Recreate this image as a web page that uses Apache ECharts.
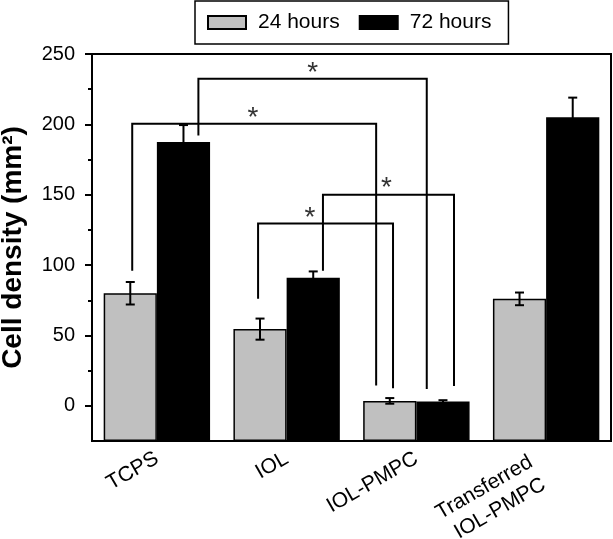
<!DOCTYPE html>
<html>
<head>
<meta charset="utf-8">
<script src="https://cdn.jsdelivr.net/npm/echarts@6/dist/echarts.min.js"></script>
<style>html,body{margin:0;padding:0;background:#fff;}#c{width:613px;height:539px;}</style>
</head>
<body>
<div id="c"></div>
<script>
// ---- data ----
var categories = ['TCPS', 'IOL', 'IOL-PMPC', 'Transferred\nIOL-PMPC'];
var seriesNames = ['24 hours', '72 hours'];
var values24 = [80, 54.5, 3.5, 76];
var errors24 = [8, 7.5, 2, 4.5];
var values72 = [187.5, 91, 3, 205];
var errors72 = [12, 4.5, 1, 14];
var yTicks = [0, 50, 100, 150, 200, 250];
var yMinorTicks = [25, 75, 125, 175, 225];
var yMin = -25, yMax = 250;
// significance brackets, in group units (category i spans i..i+1): [xLeft, yLeftEnd, yTop, xRight, yRightEnd]
var bracketXLeft  = [0.31, 0.82, 1.28, 1.78];
var bracketYLeft  = [96, 192, 76, 96];
var bracketYTop   = [200.5, 232.5, 129.5, 150];
var bracketXRight = [2.19, 2.58, 2.32, 2.79];
var bracketYRight = [14.5, 12, 12.5, 14];
var starX = [1.24, 1.70, 1.68, 2.27];
var starY = [204, 236.5, 133.5, 154.5];
var starText = ['*', '*', '*', '*'];

var FONT = '"Liberation Sans", Arial, Helvetica, sans-serif';
var barFrac = 0.41;

function errData(vals, errs) {
  return vals.map(function (v, i) { return [i, v, errs[i]]; });
}
function errRender(side) {
  return function (params, api) {
    var i = api.value(0), v = api.value(1), e = api.value(2);
    var band = api.size([1, 0])[0];
    var off = side * band * barFrac / 2;
    var top = api.coord([i, v + e]);
    var bot = api.coord([i, v - e]);
    var x = top[0] + off;
    var cap = 4.5;
    var st = { stroke: '#000', lineWidth: 2 };
    return { type: 'group', children: [
      { type: 'line', shape: { x1: x, y1: top[1], x2: x, y2: bot[1] }, style: st },
      { type: 'line', shape: { x1: x - cap, y1: top[1], x2: x + cap, y2: top[1] }, style: st },
      { type: 'line', shape: { x1: x - cap, y1: bot[1], x2: x + cap, y2: bot[1] }, style: st }
    ]};
  };
}
var bracketData = bracketXLeft.map(function (x, i) {
  return [x, bracketYLeft[i], bracketYTop[i], bracketXRight[i], bracketYRight[i]];
});
var starData = starX.map(function (x, i) { return [x, starY[i], i]; });

var chart = echarts.init(document.getElementById('c'));
chart.setOption({
  animation: false,
  backgroundColor: '#fff',
  textStyle: { fontFamily: FONT },
  legend: {
    data: seriesNames,
    left: 195, top: 1,
    orient: 'horizontal',
    itemWidth: 38, itemHeight: 13, itemGap: 19,
    padding: [11, 17, 11, 12],
    borderColor: '#000', borderWidth: 1.5,
    icon: 'rect',
    textStyle: { fontSize: 21, color: '#000', fontFamily: FONT, padding: [0, 0, 0, 7] }
  },
  grid: {
    left: 92, top: 54, right: 2, bottom: 98,
    containLabel: false, outerBoundsMode: 'none',
    show: true, borderColor: '#000', borderWidth: 2, backgroundColor: 'transparent'
  },
  xAxis: [{
    type: 'category', data: categories,
    axisLine: { onZero: false, lineStyle: { color: '#000', width: 2 } },
    axisTick: { show: false },
    axisLabel: {
      rotate: 30, fontSize: 21, color: '#000', margin: 4, fontFamily: FONT,
      verticalAlign: 'top', align: 'right', padding: [0, 6, 0, 0],
      formatter: function (v) {
        if (v.indexOf('\n') >= 0) {
          var parts = v.split('\n');
          return '{a|' + parts[0] + '}\n{b|' + parts[1] + '}';
        }
        return v;
      },
      rich: {
        a: { fontSize: 21, fontFamily: FONT, color: '#000', lineHeight: 12, padding: [0, 15, 0, 0] },
        b: { fontSize: 21, fontFamily: FONT, color: '#000', lineHeight: 40, padding: [0, 15, 0, 0] }
      }
    }
  }, {
    type: 'value', min: 0, max: 4, show: false
  }],
  yAxis: [{
    type: 'value', min: yMin, max: yMax, startValue: yMin,
    name: 'Cell density (mm²)', nameLocation: 'middle', nameGap: 65,
    nameTextStyle: { fontSize: 28, fontWeight: 'bold', color: '#000', fontFamily: FONT },
    axisLine: { show: true, lineStyle: { color: '#000', width: 2 } },
    axisTick: { show: true, length: 7, customValues: yTicks, lineStyle: { color: '#000', width: 2 } },
    axisLabel: { customValues: yTicks, fontSize: 20, color: '#000', margin: 17, fontFamily: FONT },
    splitLine: { show: false }
  }, {
    type: 'value', min: yMin, max: yMax, position: 'left',
    axisLine: { show: false },
    axisTick: { show: true, length: 4, customValues: yMinorTicks, lineStyle: { color: '#000', width: 2 } },
    axisLabel: { show: false },
    splitLine: { show: false }
  }],
  series: [{
    name: seriesNames[0], type: 'bar', data: values24,
    barWidth: (barFrac * 100) + '%', barGap: '0%',
    itemStyle: { color: '#c0c0c0', borderColor: '#000', borderWidth: 1.5 }
  }, {
    name: seriesNames[1], type: 'bar', data: values72,
    barWidth: (barFrac * 100) + '%', barGap: '0%',
    itemStyle: { color: '#000', borderColor: '#000', borderWidth: 1.5 }
  }, {
    type: 'custom', data: errData(values24, errors24), renderItem: errRender(-1), z: 5
  }, {
    type: 'custom', data: errData(values72, errors72), renderItem: errRender(1), z: 5
  }, {
    type: 'custom', xAxisIndex: 1, data: bracketData, z: 6, clip: false,
    renderItem: function (params, api) {
      var a = api.coord([api.value(0), api.value(1)]);
      var b = api.coord([api.value(0), api.value(2)]);
      var c = api.coord([api.value(3), api.value(2)]);
      var d = api.coord([api.value(3), api.value(4)]);
      return { type: 'polyline', shape: { points: [a, b, c, d] },
        style: { stroke: '#000', lineWidth: 2, fill: null } };
    }
  }, {
    type: 'custom', xAxisIndex: 1, data: starData, z: 6, clip: false,
    renderItem: function (params, api) {
      var p = api.coord([api.value(0), api.value(1)]);
      return { type: 'text', x: p[0], y: p[1],
        style: { text: starText[api.value(2)], fontSize: 28, fill: '#333', align: 'center', verticalAlign: 'middle', fontFamily: FONT } };
    }
  }]
});
</script>
</body>
</html>
